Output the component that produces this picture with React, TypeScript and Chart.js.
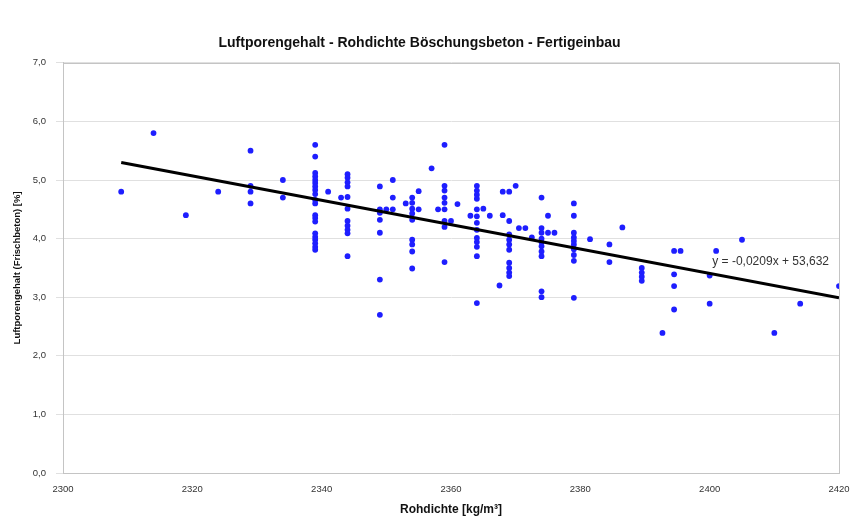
import React, { useEffect, useRef } from "react";
import { Chart, registerables } from "chart.js";

Chart.register(...registerables);

const chartTitle = "Luftporengehalt - Rohdichte Böschungsbeton - Fertigeinbau";
const xTitle = "Rohdichte [kg/m³]";
const yTitle = "Luftporengehalt (Frischbeton) [%]";
const equationText = "y = -0,0209x + 53,632";

// Rohdichte [kg/m³] values, one entry per measured point
const densityX: number[] = [
  2309, 2314, 2319, 2324,
  2329, 2329, 2329, 2329,
  2334, 2334,
  2339, 2339, 2339, 2339, 2339, 2339, 2339, 2339, 2339, 2339, 2339, 2339, 2339, 2339, 2339, 2339, 2339, 2339, 2339, 2339,
  2341, 2343,
  2344, 2344, 2344, 2344, 2344, 2344, 2344, 2344, 2344, 2344, 2344,
  2349, 2349, 2349, 2349, 2349, 2349, 2349,
  2350, 2351, 2351, 2351,
  2353,
  2354, 2354, 2354, 2354, 2354, 2354, 2354, 2354, 2354,
  2355, 2355,
  2357, 2358,
  2359, 2359, 2359, 2359, 2359, 2359, 2359, 2359, 2359,
  2360, 2361, 2363,
  2364, 2364, 2364, 2364, 2364, 2364, 2364, 2364, 2364, 2364, 2364, 2364, 2364,
  2365, 2366, 2367.5,
  2368, 2368,
  2369, 2369, 2369, 2369, 2369, 2369, 2369, 2369, 2369, 2369,
  2370, 2370.5, 2371.5, 2372.5,
  2374, 2374, 2374, 2374, 2374, 2374, 2374, 2374, 2374, 2374,
  2375, 2375, 2376,
  2379, 2379, 2379, 2379, 2379, 2379, 2379, 2379, 2379, 2379,
  2381.5, 2384.5, 2384.5, 2386.5,
  2389.5, 2389.5, 2389.5, 2389.5,
  2392.7,
  2394.5, 2394.5, 2394.5, 2394.5, 2395.5,
  2400, 2400, 2401, 2405, 2410, 2414, 2420,
];

// Luftporengehalt [%] values, matching densityX entry by entry
const airContentY: number[] = [
  4.8, 5.8, 4.4, 4.8,
  5.5, 4.9, 4.8, 4.6,
  5.0, 4.7,
  5.6, 5.4, 5.12, 5.06, 5.0, 4.95, 4.89, 4.83, 4.76, 4.66, 4.6, 4.4, 4.35, 4.29, 4.09, 4.03, 3.98, 3.92, 3.86, 3.81,
  4.8, 4.7,
  5.1, 5.04, 4.96, 4.89, 4.71, 4.51, 4.3, 4.22, 4.15, 4.09, 3.7,
  4.89, 4.5, 4.44, 4.32, 4.1, 3.3, 2.7,
  4.5, 4.5, 5.0, 4.7,
  4.6,
  4.7, 4.61, 4.51, 4.43, 4.32, 3.98, 3.9, 3.78, 3.49,
  4.81, 4.5,
  5.2, 4.5,
  5.6, 4.9, 4.82, 4.7, 4.61, 4.5, 4.3, 4.2, 3.6,
  4.3, 4.59, 4.39,
  4.9, 4.82, 4.75, 4.68, 4.5, 4.38, 4.27, 4.15, 4.01, 3.94, 3.86, 3.7, 2.9,
  4.51, 4.39, 3.2,
  4.8, 4.4,
  4.8, 4.3, 4.07, 3.98, 3.9, 3.81, 3.59, 3.5, 3.42, 3.36,
  4.9, 4.18, 4.18, 4.02,
  4.7, 4.18, 4.1, 4.0, 3.94, 3.87, 3.78, 3.7, 3.1, 3.0,
  4.39, 4.1, 4.1,
  4.6, 4.39, 4.1, 4.02, 3.96, 3.9, 3.82, 3.72, 3.62, 2.99,
  3.99, 3.9, 3.6, 4.19,
  3.5, 3.42, 3.35, 3.28,
  2.39,
  3.79, 3.39, 3.19, 2.79, 3.79,
  3.37, 2.89, 3.79, 3.98, 2.39, 2.89, 3.19,
];

// Linear trend line endpoints as drawn
const trendX: number[] = [2309, 2420];
const trendY: number[] = [5.3, 2.99];

const xTicks: number[] = [2300, 2320, 2340, 2360, 2380, 2400, 2420];
const yTicks: number[] = [0, 1, 2, 3, 4, 5, 6, 7];

const FONT = '"Liberation Sans", Arial, sans-serif';

export default function App() {
  const ref = useRef<HTMLCanvasElement | null>(null);

  useEffect(() => {
    document.body.style.margin = "0";
    const canvas = ref.current;
    if (!canvas) return;

    const points = densityX.map((x, i) => ({ x, y: airContentY[i] }));
    const trend = trendX.map((x, i) => ({ x, y: trendY[i] }));

    const overlay = {
      id: "overlay",
      beforeDatasetsDraw(chart: any) {
        const { ctx, chartArea } = chart;
        ctx.save();
        ctx.strokeStyle = "#c4c4c4";
        ctx.lineWidth = 1;
        ctx.strokeRect(
          Math.round(chartArea.left) + 0.5,
          Math.round(chartArea.top) + 0.5,
          Math.round(chartArea.right - chartArea.left),
          Math.round(chartArea.bottom - chartArea.top)
        );
        ctx.restore();
      },
      afterDatasetsDraw(chart: any) {
        const { ctx, scales } = chart;
        const px = scales.x.getPixelForValue(2400.4);
        const py = scales.y.getPixelForValue(3.6);
        ctx.save();
        ctx.font = `12px ${FONT}`;
        ctx.fillStyle = "#333";
        ctx.textAlign = "left";
        ctx.textBaseline = "middle";
        ctx.fillText(equationText, px, py);
        ctx.restore();
      },
    };

    const chart = new Chart(canvas, {
      type: "scatter",
      data: {
        datasets: [
          {
            label: "Messwerte",
            data: points,
            pointStyle: "circle",
            pointRadius: 2.9,
            pointBackgroundColor: "rgb(30,30,255)",
            pointBorderWidth: 0,
            showLine: false,
            order: 2,
          },
          {
            label: "Trend",
            data: trend,
            showLine: true,
            borderColor: "#000",
            borderWidth: 3,
            pointRadius: 0,
            order: 1,
          } as any,
        ],
      },
      options: {
        animation: false,
        responsive: false,
        devicePixelRatio: 1,
        layout: { padding: { left: 0, right: 11, top: 0, bottom: 0 } },
        plugins: {
          legend: { display: false },
          tooltip: { enabled: false },
          title: {
            display: true,
            text: chartTitle,
            color: "#111",
            font: { family: FONT, size: 14, weight: "bold" },
            lineHeight: 1.2,
            padding: { top: 35, bottom: 11 },
          },
        },
        scales: {
          x: {
            type: "linear",
            min: 2300,
            max: 2420,
            afterBuildTicks: (scale: any) => {
              scale.ticks = xTicks.map((v) => ({ value: v }));
            },
            afterFit: (scale: any) => {
              scale.height = 45;
              scale.paddingLeft = 0;
              scale.paddingRight = 0;
            },
            ticks: {
              color: "#333",
              font: { family: FONT, size: 9.5 },
              padding: 11,
              maxRotation: 0,
              autoSkip: false,
              callback: (v: any) => String(v),
            },
            grid: { display: false, drawTicks: false },
            border: { display: true, color: "#c4c4c4", width: 1 },
            title: {
              display: true,
              text: xTitle,
              color: "#111",
              font: { family: FONT, size: 12, weight: "bold" },
              padding: { top: 0, bottom: 1 },
            },
          },
          y: {
            type: "linear",
            min: 0,
            max: 7,
            afterBuildTicks: (scale: any) => {
              scale.ticks = yTicks.map((v) => ({ value: v }));
            },
            afterFit: (scale: any) => {
              scale.width = 63;
            },
            ticks: {
              color: "#333",
              font: { family: FONT, size: 9.5 },
              padding: 10,
              callback: (v: any) => Number(v).toFixed(1).replace(".", ","),
            },
            grid: {
              display: true,
              color: "#e0e0e0",
              lineWidth: 1,
              drawTicks: true,
              tickLength: 7,
            },
            border: { display: true, color: "#c4c4c4", width: 1 },
            title: {
              display: true,
              text: yTitle,
              color: "#111",
              font: { family: FONT, size: 9.5, weight: "bold" },
              padding: { top: 12, bottom: 0 },
            },
          },
        },
      },
      plugins: [overlay],
    } as any);

    return () => chart.destroy();
  }, []);

  return (
    <div style={{ width: 850, height: 518, background: "#fff" }}>
      <canvas ref={ref} width={850} height={518} />
    </div>
  );
}
